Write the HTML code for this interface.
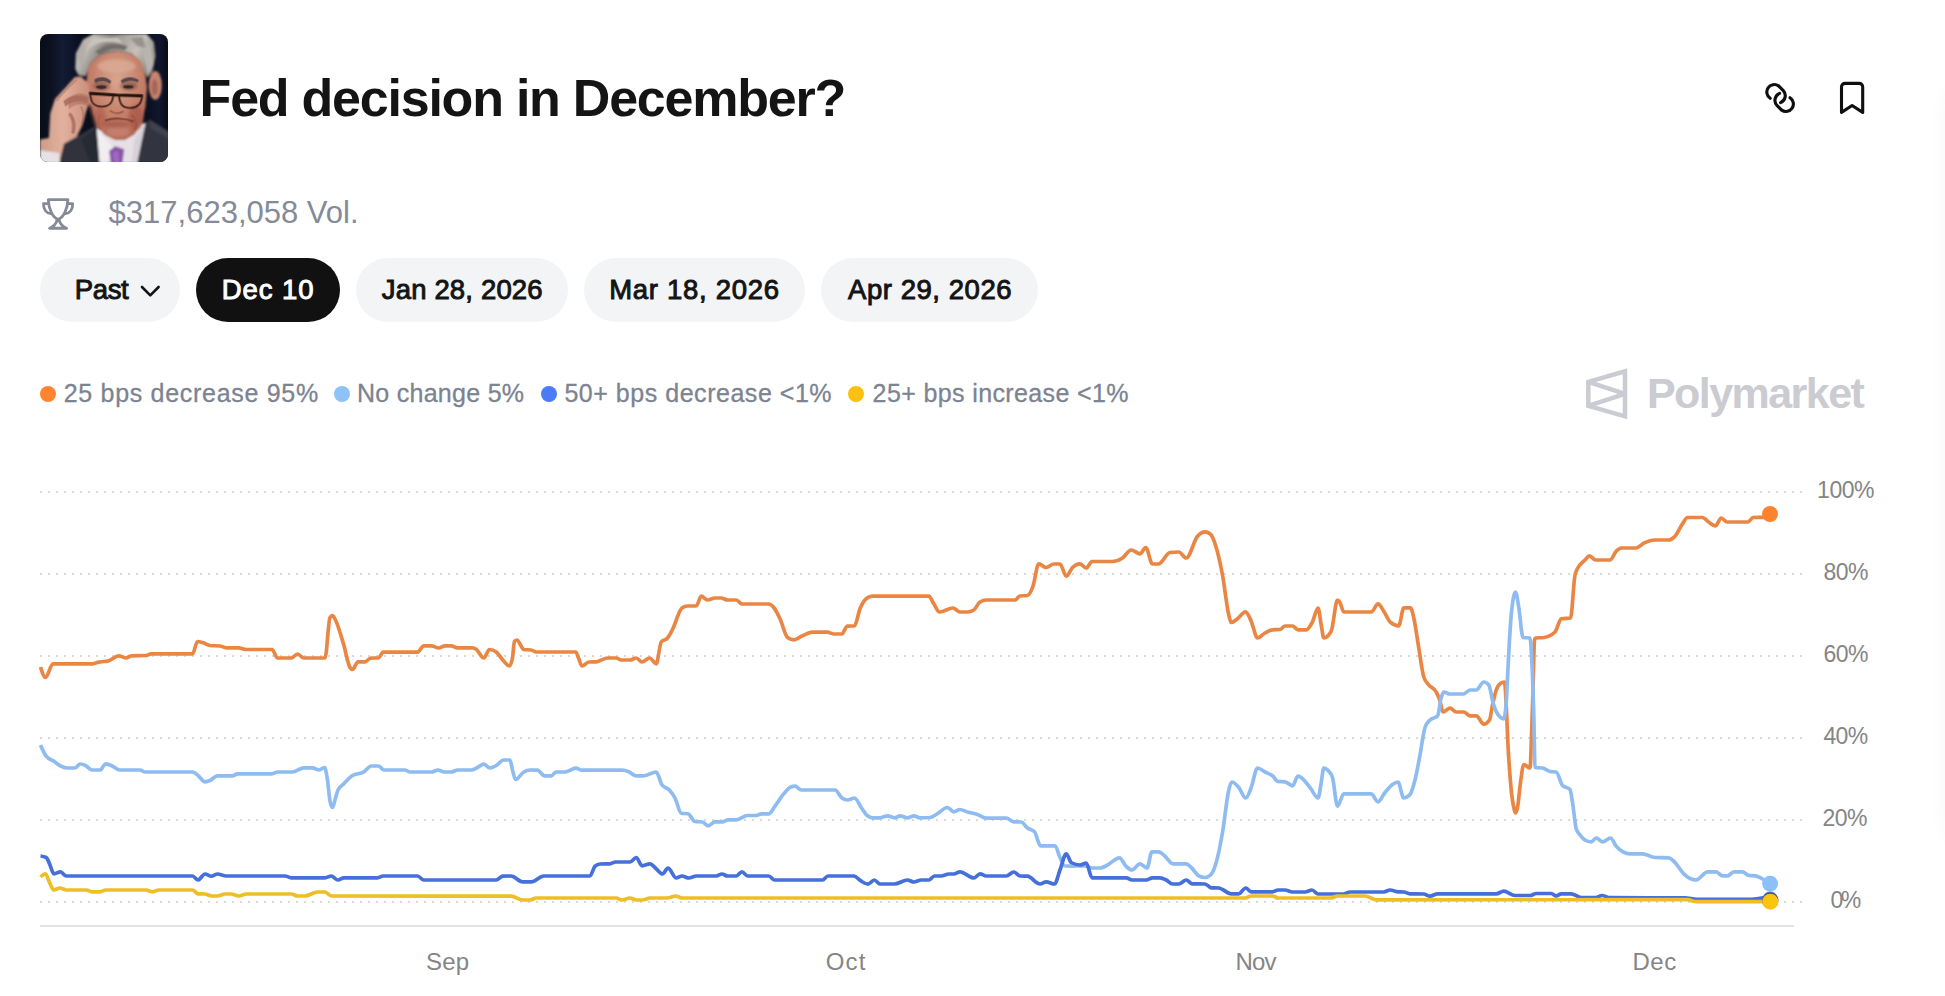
<!DOCTYPE html>
<html lang="en">
<head>
<meta charset="utf-8">
<title>Fed decision in December?</title>
<style>
html,body{margin:0;padding:0;background:#fff;}
body{width:1945px;height:996px;position:relative;overflow:hidden;font-family:"Liberation Sans",sans-serif;}
.t{position:absolute;white-space:nowrap;line-height:1;}
#title{top:72px;font-size:52px;font-weight:bold;color:#141414;}
#vol{top:197px;font-size:31px;color:#848b97;}
.pill{position:absolute;top:258px;height:64px;border-radius:32px;background:#f2f4f6;}
.pill.on{background:#111111;}
.pt{position:absolute;white-space:nowrap;line-height:1;top:275.7px;font-size:27.5px;font-weight:normal;-webkit-text-stroke:0.95px #141414;color:#141414;}
.pt.w{color:#fff;-webkit-text-stroke-color:#fff;}
.dot{position:absolute;width:16px;height:16px;border-radius:50%;top:386px;}
.lg{position:absolute;white-space:nowrap;line-height:1;top:381px;font-size:25px;color:#7c8391;-webkit-text-stroke:0.3px #7c8391;}
.ax{position:absolute;white-space:nowrap;line-height:1;font-size:23px;color:#858585;}
#pm{top:372.2px;font-size:43px;font-weight:bold;color:#cbcbd2;}
svg{position:absolute;left:0;top:0;}
</style>
</head>
<body>
<div style="position:absolute;left:1951px;top:88px;width:200px;height:750px;border-radius:16px;box-shadow:0 2px 26px rgba(0,0,0,0.06);"></div>
<!--AVATAR-->
<svg id="avatar" width="128" height="128" viewBox="30 30 935 935" style="left:40px;top:34px;border-radius:8px;">
<defs>
<linearGradient id="bgg" x1="0" x2="1" y1="0" y2="0">
<stop offset="0" stop-color="#0a0d19"/><stop offset="0.08" stop-color="#0c1120"/><stop offset="0.17" stop-color="#131b33"/><stop offset="0.25" stop-color="#0e152b"/><stop offset="0.31" stop-color="#0a0f1e"/><stop offset="0.85" stop-color="#0b101f"/><stop offset="0.93" stop-color="#10172e"/><stop offset="1" stop-color="#090c18"/>
</linearGradient>
<linearGradient id="hairg" x1="0" x2="1" y1="0" y2="0.3">
<stop offset="0" stop-color="#a39f98"/><stop offset="0.22" stop-color="#c0bcb5"/><stop offset="0.42" stop-color="#8b8782"/><stop offset="0.6" stop-color="#aca8a1"/><stop offset="0.8" stop-color="#c6c2bb"/><stop offset="1" stop-color="#9c9891"/>
</linearGradient>
<radialGradient id="faceg" cx="0.5" cy="0.32" r="0.72">
<stop offset="0" stop-color="#d8a58e"/><stop offset="0.5" stop-color="#c8846e"/><stop offset="1" stop-color="#b0634f"/>
</radialGradient>
<linearGradient id="handg" x1="0" x2="1" y1="0" y2="0">
<stop offset="0" stop-color="#cf9c8a"/><stop offset="0.45" stop-color="#e2b19d"/><stop offset="1" stop-color="#c88e7b"/>
</linearGradient>
<filter id="bl" x="-5%" y="-5%" width="110%" height="110%"><feGaussianBlur stdDeviation="6"/></filter>
<filter id="bl2" x="-5%" y="-5%" width="110%" height="110%"><feGaussianBlur stdDeviation="4"/></filter>
<filter id="bl3" x="-10%" y="-10%" width="120%" height="120%"><feGaussianBlur stdDeviation="12"/></filter>
</defs>
<rect x="30" y="30" width="935" height="935" fill="url(#bgg)"/>
<g filter="url(#bl)">
<!-- suit -->
<path d="M170 975L205 830L320 770L450 690L500 975Z" fill="#31333d"/>
<path d="M700 975L790 690L830 655L975 745V975Z" fill="#31343f"/>
<path d="M830 655L975 745V800L840 720Z" fill="#3f424e"/>
<path d="M330 800L440 720L470 975H400Z" fill="#282a33"/>
<!-- shirt -->
<path d="M445 720L800 680L730 975H470Z" fill="#e6e0e4"/>
<path d="M445 720L560 850L520 975H465Z" fill="#f1edf0"/>
<path d="M800 680L740 975H700L720 800Z" fill="#d8d2d8"/>
<!-- tie -->
<path d="M535 885L580 850L645 872L632 975H548Z" fill="#8a52ab"/>
<path d="M560 900L600 880L610 975H575Z" fill="#a069c0"/>
<!-- ear -->
<ellipse cx="872" cy="405" rx="48" ry="105" fill="#c5846f"/>
<ellipse cx="868" cy="420" rx="22" ry="60" fill="#a86553"/>
<!-- hair -->
<path d="M288 285L292 170L345 70L420 30H810L862 90L874 190L852 300L815 350L790 300L760 225L700 172L600 150L485 172L405 235L362 340L310 330Z" fill="url(#hairg)"/>
<path d="M330 200C400 90 520 70 640 100L600 60L420 60Z" fill="#c9c5be"/>
<path d="M430 160C520 90 600 90 670 120L650 152C580 130 520 142 465 182Z" fill="#716d6a"/>
<path d="M760 120L840 110L860 250L820 320L800 240Z" fill="#b9b5ae"/>
<path d="M300 180L340 100L370 120L330 300Z" fill="#b3afa8"/>
<path d="M690 60L780 50L800 130L740 120Z" fill="#96928d"/>
<!-- face -->
<path d="M405 235L485 175L600 153L700 175L765 228L800 330L812 420L800 560L772 680L722 762L650 805H580L500 765L440 695L400 600L380 480L368 380L378 300Z" fill="url(#faceg)"/>
<!-- hand -->
<path d="M285 345L330 340L388 395L398 520L366 600L338 700L298 780L205 832L170 975H30V800L95 790L105 610L140 505L215 425Z" fill="url(#handg)"/>
<path d="M30 880L170 900L175 975H30Z" fill="#e6e1e4"/>
</g>
<g filter="url(#bl3)">
<ellipse cx="730" cy="640" rx="55" ry="90" fill="#a9584a" opacity="0.75"/>
<ellipse cx="468" cy="640" rx="45" ry="80" fill="#b26252" opacity="0.7"/>
<ellipse cx="590" cy="265" rx="140" ry="50" fill="#dbab95" opacity="0.8"/>
<ellipse cx="600" cy="745" rx="85" ry="40" fill="#c5806d" opacity="0.9"/>
<ellipse cx="478" cy="410" rx="62" ry="34" fill="#8a5446" opacity="0.75"/>
<ellipse cx="680" cy="408" rx="62" ry="34" fill="#8a5446" opacity="0.75"/>
<ellipse cx="585" cy="690" rx="95" ry="26" fill="#9c5648" opacity="0.6"/>
<path d="M388 560L410 700L440 700L400 560Z" fill="#15151e"/>
</g>
<g filter="url(#bl2)">
<!-- finger creases -->
<path d="M235 500C290 455 350 455 392 490L385 560C340 530 280 540 240 580Z" fill="#a8685a" opacity="0.55"/>
<path d="M200 520C260 470 330 470 380 500L372 535C320 510 260 520 215 560Z" fill="#a9685a" opacity="0.85"/>
<path d="M250 600C290 640 300 700 280 760L258 752C272 700 262 650 238 622Z" fill="#a86858" opacity="0.8"/>
<path d="M150 520C200 450 260 400 300 360" fill="none" stroke="#b37463" stroke-width="10" opacity="0.8"/>
<path d="M330 560C350 600 350 650 335 690" fill="none" stroke="#a9695a" stroke-width="10" opacity="0.8"/>
<!-- brows -->
<path d="M425 365C470 335 520 345 550 375L540 395C510 370 470 365 435 390Z" fill="#54494a"/>
<path d="M620 370C660 340 710 340 750 365L745 385C705 365 665 368 630 392Z" fill="#54494a"/>
<!-- eyes -->
<ellipse cx="478" cy="418" rx="38" ry="13" fill="#35292a"/>
<ellipse cx="675" cy="415" rx="38" ry="13" fill="#35292a"/>
<!-- glasses -->
<path d="M388 463L585 476L782 482" fill="none" stroke="#1f120e" stroke-width="22"/>
<path d="M398 468C400 540 430 560 480 560C540 560 560 530 565 478" fill="none" stroke="#3a2018" stroke-width="13"/>
<path d="M608 480C610 550 640 572 690 570C745 568 770 540 776 485" fill="none" stroke="#3a2018" stroke-width="13"/>
<!-- nose & mouth -->
<path d="M540 590C570 612 610 614 640 595" fill="none" stroke="#9a5546" stroke-width="13"/>
<path d="M505 662C560 642 650 642 715 670" fill="none" stroke="#7e3f36" stroke-width="14"/>
<path d="M700 620C740 660 740 700 720 730" fill="none" stroke="#9c5446" stroke-width="11"/>
<path d="M470 620C450 660 455 700 475 730" fill="none" stroke="#a35b4c" stroke-width="9"/>
</g>
</svg>
<!--/AVATAR-->
<div class="t" id="title" style="left:199.6px;letter-spacing:-1.23px;">Fed decision in December?</div>
<div class="t" id="vol" style="left:108.6px;letter-spacing:0.0px;">$317,623,058 Vol.</div>

<div class="pill" style="left:40px;width:140px;"></div>
<div class="pill on" style="left:196px;width:144px;"></div>
<div class="pill" style="left:356px;width:212px;"></div>
<div class="pill" style="left:584px;width:221px;"></div>
<div class="pill" style="left:821px;width:217px;"></div>
<div class="pt" id="p1" style="left:74.7px;letter-spacing:-0.33px;">Past</div>
<div class="pt w" id="p2" style="left:221.8px;letter-spacing:0.92px;">Dec 10</div>
<div class="pt" id="p3" style="left:381.8px;letter-spacing:0.16px;">Jan 28, 2026</div>
<div class="pt" id="p4" style="left:609.2px;letter-spacing:0.71px;">Mar 18, 2026</div>
<div class="pt" id="p5" style="left:848px;letter-spacing:0.55px;">Apr 29, 2026</div>

<div class="dot" style="left:40px;background:#ff8432;"></div>
<div class="lg" id="l1" style="left:63.7px;letter-spacing:0.7px;">25 bps decrease 95%</div>
<div class="dot" style="left:334px;background:#8ec3fa;"></div>
<div class="lg" id="l2" style="left:356.9px;letter-spacing:0.29px;">No change 5%</div>
<div class="dot" style="left:541px;background:#4a7cf7;"></div>
<div class="lg" id="l3" style="left:564.4px;letter-spacing:0.53px;">50+ bps decrease &lt;1%</div>
<div class="dot" style="left:848px;background:#fcc010;"></div>
<div class="lg" id="l4" style="left:872.6px;letter-spacing:0.38px;">25+ bps increase &lt;1%</div>

<div class="t" id="pm" style="left:1647px;letter-spacing:-1.56px;">Polymarket</div>

<div class="ax" id="a100" style="left:1817.1px;letter-spacing:-0.47px;top:478.5px;">100%</div>
<div class="ax" id="a80" style="left:1823.6px;letter-spacing:-0.6px;top:560.5px;">80%</div>
<div class="ax" id="a60" style="left:1823.6px;letter-spacing:-0.6px;top:642.5px;">60%</div>
<div class="ax" id="a40" style="left:1823.5px;letter-spacing:-0.7px;top:724.5px;">40%</div>
<div class="ax" id="a20" style="left:1822.4px;letter-spacing:-0.5px;top:806.5px;">20%</div>
<div class="ax" id="a0" style="left:1830.6px;letter-spacing:-2.6px;top:888.5px;">0%</div>
<div class="ax" id="mSep" style="left:426px;letter-spacing:0.2px;top:949.6px;font-size:24px;">Sep</div>
<div class="ax" id="mOct" style="left:825.7px;letter-spacing:1.2px;top:949.6px;font-size:24px;">Oct</div>
<div class="ax" id="mNov" style="left:1235.5px;letter-spacing:-0.9px;top:949.6px;font-size:24px;">Nov</div>
<div class="ax" id="mDec" style="left:1632.5px;letter-spacing:0.5px;top:949.6px;font-size:24px;">Dec</div>

<!--ICONS-->
<svg id="icons" width="1945" height="996" viewBox="0 0 1945 996">
<g transform="translate(1780.1 98) rotate(45) scale(1.065)" fill="none" stroke="#0f0f0f" stroke-width="2.95" stroke-linecap="round">
<path d="M-6.4 6.8A7.03 7.03 0 1 1 -9.14 -7.03L-3.1 -7.03A7.03 7.03 0 0 1 3.38 2.72"/>
<path d="M6.4 -6.8A7.03 7.03 0 1 1 9.14 7.03L3.1 7.03A7.03 7.03 0 0 1 -3.38 -2.72"/>
</g>
<path d="M1841.5 112.4V86.9a3.5 3.5 0 0 1 3.5-3.5h14.2a3.5 3.5 0 0 1 3.5 3.5V112.4L1852.1 105.5Z" fill="none" stroke="#0f0f0f" stroke-width="3.1" stroke-linejoin="round"/>
<path d="M142 287L150.3 295.3L158.6 287" fill="none" stroke="#141414" stroke-width="2.6" stroke-linecap="round" stroke-linejoin="round"/>
<g transform="translate(33 189) scale(0.0502)" fill="none" stroke="#858b96" stroke-width="56" stroke-linejoin="round" stroke-linecap="round">
<path d="M305 210H695C690 400 600 590 500 602C400 590 310 400 305 210Z"/>
<path d="M300 290H209C205 410 270 485 350 492M700 290H791C795 410 730 485 650 492"/>
<path d="M478 615C470 690 400 760 330 782H670C600 760 530 690 522 615"/>
</g>
<path d="M1588.35 381.9L1625 371.35V416.3L1588.35 405.8Z" fill="none" stroke="#cbcbd3" stroke-width="4.5" stroke-linejoin="miter"/><path d="M1588.35 381.9L1625 393.8L1588.35 405.8" fill="none" stroke="#cbcbd3" stroke-width="4.5" stroke-linejoin="bevel"/>
</svg>
<!--/ICONS-->
<svg id="chart" width="1945" height="996" viewBox="0 0 1945 996">
<g stroke="#d9dbd9" stroke-width="2" stroke-dasharray="2 6" fill="none">
<path d="M40 492H1802M40 574H1802M40 656H1802M40 738H1802M40 820H1802M40 902H1802"/>
</g>
<path d="M40 926H1794" stroke="#e3e3e3" stroke-width="2" fill="none"/>
<!--LINES-->
<g fill="none" stroke-width="3.7" stroke-linejoin="round" stroke-linecap="butt">
<path id="ln-orange" stroke="#ea8644" d="M40.5 667.0C42.2 672.2 43.8 677.5 45.5 677.5C48.0 677.5 50.5 663.8 53.0 663.8C66.2 663.8 79.3 663.8 92.5 663.8C95.0 663.8 97.5 662.1 100.0 661.8C102.5 661.4 105.0 661.6 107.5 661.2C111.2 660.8 115.0 655.8 118.8 655.8C121.2 655.8 123.8 658.0 126.2 658.0C127.9 658.0 129.6 655.8 131.2 655.8C136.2 655.6 141.2 655.7 146.2 655.5C147.9 655.4 149.6 653.8 151.2 653.8C165.0 653.8 178.8 653.8 192.5 653.8C194.2 653.8 195.8 641.5 197.5 641.5C199.2 641.5 200.8 642.0 202.5 642.5C205.0 643.2 207.5 645.2 210.0 645.5C213.3 645.8 216.7 645.7 220.0 646.0C222.1 646.2 224.2 647.8 226.2 647.8C230.4 647.8 234.6 647.8 238.8 647.8C241.2 647.8 243.8 649.5 246.2 649.5C254.8 649.5 263.4 649.5 272.0 649.5C273.8 649.5 275.7 658.0 277.5 658.0C282.1 658.0 286.7 658.0 291.2 658.0C293.3 658.0 295.4 654.0 297.5 654.0C299.6 654.0 301.7 658.0 303.8 658.0C310.8 658.0 317.9 658.0 325.0 658.0C326.7 658.0 328.3 620.2 330.0 617.5C330.8 616.2 331.7 615.5 332.5 615.5C333.5 615.5 334.5 618.1 335.5 620.0C338.2 625.2 341.0 635.8 343.8 645.0C345.8 652.0 347.9 664.2 350.0 667.5C350.8 668.8 351.7 669.5 352.5 669.5C354.3 669.5 356.2 661.8 358.0 661.8C360.3 661.8 362.7 661.8 365.0 661.8C366.8 661.8 368.7 658.5 370.5 658.2C373.2 657.9 376.0 658.1 378.8 657.8C380.2 657.6 381.6 652.2 383.0 652.2C394.5 652.2 406.0 652.2 417.5 652.2C419.6 652.2 421.7 645.8 423.8 645.8C426.2 645.8 428.8 645.8 431.2 645.8C433.8 645.8 436.2 648.0 438.8 648.0C440.8 648.0 442.9 645.8 445.0 645.8C447.1 645.8 449.2 645.8 451.2 645.8C453.3 645.8 455.4 647.8 457.5 647.8C462.5 647.8 467.5 647.8 472.5 647.8C473.8 647.8 475.0 648.4 476.2 649.2C478.8 650.9 481.2 658.0 483.8 658.0C485.7 658.0 487.6 649.5 489.5 649.5C491.8 649.5 494.0 650.3 496.2 652.0C498.8 653.9 501.2 658.7 503.8 661.2C505.7 663.2 507.6 666.0 509.5 666.0C510.5 666.0 511.5 663.2 512.5 657.5C513.2 653.7 513.8 641.9 514.5 641.2C515.3 640.4 516.2 640.0 517.0 640.0C519.2 640.0 521.5 649.2 523.8 649.5C526.2 649.8 528.8 649.7 531.2 650.0C532.9 650.2 534.6 652.0 536.2 652.0C549.4 652.0 562.6 652.0 575.8 652.0C576.8 652.0 577.8 656.5 578.8 658.8C579.8 661.2 580.9 666.0 582.0 666.0C584.2 666.0 586.5 662.1 588.8 662.0C591.2 661.8 593.8 661.9 596.2 661.8C600.0 661.5 603.8 658.0 607.5 658.0C610.4 658.0 613.3 658.0 616.2 658.0C617.9 658.0 619.6 660.0 621.2 660.0C624.2 660.0 627.1 660.0 630.0 660.0C632.1 660.0 634.2 658.0 636.2 658.0C638.2 658.0 640.1 662.0 642.0 662.0C644.5 662.0 647.0 658.0 649.5 658.0C651.8 658.0 654.0 663.8 656.2 663.8C657.9 663.8 659.6 644.1 661.2 642.0C663.3 639.3 665.4 640.6 667.5 638.0C669.2 636.0 670.8 632.7 672.5 629.5C675.7 623.5 678.8 610.3 682.0 608.0C683.8 606.7 685.7 606.0 687.5 606.0C690.4 606.0 693.3 606.0 696.2 606.0C697.9 606.0 699.6 596.2 701.2 596.2C703.3 596.2 705.4 600.0 707.5 600.0C710.0 600.0 712.5 598.0 715.0 598.0C717.1 598.0 719.2 598.0 721.2 598.0C723.3 598.0 725.4 600.0 727.5 600.0C730.4 600.0 733.3 600.0 736.2 600.0C738.2 600.0 740.1 604.0 742.0 604.0C750.9 604.0 759.8 604.0 768.8 604.0C770.4 604.0 772.1 605.5 773.8 607.5C775.8 610.0 777.9 614.3 780.0 618.8C782.5 624.0 785.0 635.7 787.5 637.5C789.6 639.0 791.7 639.8 793.8 639.8C796.7 639.8 799.6 636.9 802.5 635.8C805.8 634.4 809.2 632.2 812.5 632.2C817.5 632.2 822.5 632.2 827.5 632.2C829.6 632.2 831.7 634.0 833.8 634.0C836.5 634.0 839.2 634.0 842.0 634.0C843.7 634.0 845.3 626.5 847.0 626.2C849.5 625.9 852.0 626.1 854.5 625.8C856.3 625.5 858.2 613.1 860.0 608.8C862.1 603.8 864.2 600.4 866.2 598.8C868.3 597.1 870.4 596.2 872.5 596.2C891.2 596.2 910.0 596.2 928.8 596.2C930.4 596.2 932.1 601.3 933.8 603.8C935.7 606.6 937.6 612.0 939.5 612.0C944.0 612.0 948.5 608.0 953.0 608.0C955.3 608.0 957.7 612.0 960.0 612.0C962.5 612.0 965.0 612.0 967.5 612.0C969.6 612.0 971.7 611.3 973.8 610.0C975.8 608.7 977.9 603.3 980.0 602.0C982.1 600.7 984.2 600.0 986.2 600.0C995.8 600.0 1005.4 600.0 1015.0 600.0C1016.7 600.0 1018.3 596.2 1020.0 596.0C1022.5 595.7 1025.0 595.8 1027.5 595.5C1029.3 595.3 1031.2 591.3 1033.0 586.2C1034.9 580.9 1036.8 563.8 1038.8 563.8C1041.2 563.8 1043.8 567.5 1046.2 567.5C1048.8 567.5 1051.2 564.0 1053.8 564.0C1055.8 564.0 1057.9 564.0 1060.0 564.0C1062.1 564.0 1064.2 576.2 1066.2 576.2C1068.3 576.2 1070.4 569.6 1072.5 567.5C1075.0 565.0 1077.5 563.8 1080.0 563.8C1082.1 563.8 1084.2 568.0 1086.2 568.0C1088.2 568.0 1090.1 561.5 1092.0 561.5C1098.8 561.5 1105.7 561.5 1112.5 561.5C1115.8 561.5 1119.2 560.2 1122.5 558.0C1125.4 556.1 1128.3 550.0 1131.2 550.0C1134.2 550.0 1137.1 553.8 1140.0 553.8C1141.9 553.8 1143.8 547.5 1145.8 547.5C1148.0 547.5 1150.2 564.0 1152.5 564.0C1154.6 564.0 1156.7 563.9 1158.8 563.8C1162.5 563.5 1166.2 552.9 1170.0 552.5C1172.9 552.2 1175.8 552.0 1178.8 552.0C1181.2 552.0 1183.8 558.0 1186.2 558.0C1190.0 558.0 1193.8 540.5 1197.5 536.2C1200.0 533.4 1202.5 531.8 1205.0 531.8C1206.7 531.8 1208.3 532.4 1210.0 533.8C1212.1 535.4 1214.2 540.6 1216.2 547.5C1218.3 554.4 1220.4 563.8 1222.5 575.0C1224.6 586.2 1226.7 606.7 1228.8 615.0C1229.6 618.3 1230.4 622.5 1231.2 622.5C1233.3 622.5 1235.4 620.3 1237.5 618.8C1240.2 616.8 1242.8 611.8 1245.5 611.8C1247.4 611.8 1249.3 617.1 1251.2 621.2C1253.3 625.7 1255.4 638.0 1257.5 638.0C1260.0 638.0 1262.5 634.4 1265.0 633.0C1267.5 631.6 1270.0 629.9 1272.5 629.8C1275.0 629.6 1277.5 629.7 1280.0 629.5C1281.7 629.4 1283.3 626.0 1285.0 626.0C1287.5 626.0 1290.0 626.0 1292.5 626.0C1294.3 626.0 1296.2 629.8 1298.0 629.8C1300.8 629.8 1303.5 629.8 1306.2 629.8C1308.3 629.8 1310.4 625.8 1312.5 621.8C1314.3 618.2 1316.2 608.0 1318.0 608.0C1319.1 608.0 1320.2 619.4 1321.2 625.0C1322.1 629.3 1322.9 638.0 1323.8 638.0C1326.2 638.0 1328.8 635.8 1331.2 631.2C1333.3 627.5 1335.4 600.0 1337.5 600.0C1338.3 600.0 1339.2 601.2 1340.0 602.5C1341.2 604.5 1342.5 612.0 1343.8 612.0C1352.9 612.0 1362.1 612.0 1371.2 612.0C1373.5 612.0 1375.8 603.8 1378.0 603.8C1379.9 603.8 1381.8 608.4 1383.8 611.2C1385.8 614.3 1387.9 619.8 1390.0 621.8C1392.9 624.4 1395.8 625.8 1398.8 625.8C1400.4 625.8 1402.1 607.8 1403.8 607.8C1406.0 607.8 1408.2 607.8 1410.5 607.8C1411.7 607.8 1412.8 613.8 1414.0 619.0C1415.6 626.0 1417.2 638.6 1418.8 648.0C1420.4 657.9 1422.1 671.7 1423.8 677.0C1425.4 682.3 1427.1 682.8 1428.8 685.0C1431.2 688.3 1433.8 687.3 1436.2 692.0C1437.5 694.3 1438.8 697.1 1440.0 701.0C1441.0 704.1 1442.0 712.0 1443.0 712.0C1445.3 712.0 1447.7 708.2 1450.0 708.2C1452.1 708.2 1454.2 712.0 1456.2 712.0C1458.8 712.0 1461.2 712.0 1463.8 712.0C1465.8 712.0 1467.9 715.8 1470.0 715.8C1472.1 715.8 1474.2 715.8 1476.2 715.8C1478.8 715.8 1481.2 724.2 1483.8 724.2C1485.7 724.2 1487.6 722.8 1489.5 720.0C1490.5 718.5 1491.5 709.6 1492.5 705.0C1493.8 699.3 1495.0 693.5 1496.2 690.0C1497.5 686.5 1498.8 684.7 1500.0 683.8C1501.5 682.6 1503.0 682.0 1504.5 682.0C1505.1 682.0 1505.7 694.5 1506.2 705.0C1506.8 715.5 1507.4 733.5 1508.0 745.0C1509.1 766.3 1510.2 779.2 1511.2 790.0C1512.1 798.3 1512.9 803.6 1513.8 807.5C1514.3 810.3 1514.9 813.0 1515.5 813.0C1516.2 813.0 1516.8 810.8 1517.5 807.5C1518.5 802.5 1519.5 789.5 1520.5 782.5C1521.6 774.9 1522.7 764.5 1523.8 764.5C1525.8 764.5 1527.9 768.0 1530.0 768.0C1530.6 768.0 1531.2 743.3 1531.8 727.5C1532.2 716.2 1532.6 703.1 1533.0 690.0C1533.5 674.2 1534.0 642.0 1534.5 640.0C1534.8 638.7 1535.2 638.0 1535.5 638.0C1538.2 637.7 1541.0 637.8 1543.8 637.5C1547.5 637.0 1551.2 635.7 1555.0 632.0C1557.1 630.0 1559.2 619.1 1561.2 618.8C1564.3 618.2 1567.4 618.5 1570.5 618.0C1572.0 617.8 1573.5 582.3 1575.0 575.0C1575.7 571.8 1576.3 571.1 1577.0 569.5C1579.7 563.2 1582.3 562.8 1585.0 560.0C1586.5 558.5 1588.0 555.8 1589.5 555.8C1591.5 555.8 1593.5 560.0 1595.5 560.0C1600.3 560.0 1605.2 560.0 1610.0 560.0C1612.1 560.0 1614.2 553.3 1616.2 551.2C1617.9 549.6 1619.6 548.0 1621.2 548.0C1626.2 548.0 1631.2 548.0 1636.2 548.0C1638.8 548.0 1641.2 544.5 1643.8 543.2C1647.5 541.4 1651.2 540.0 1655.0 540.0C1659.6 540.0 1664.2 540.0 1668.8 540.0C1670.8 540.0 1672.9 538.5 1675.0 536.2C1677.5 533.5 1680.0 527.3 1682.5 523.8C1684.2 521.4 1685.8 517.5 1687.5 517.5C1692.5 517.5 1697.5 517.5 1702.5 517.5C1705.0 517.5 1707.5 521.8 1710.0 523.2C1711.8 524.3 1713.7 525.8 1715.5 525.8C1717.4 525.8 1719.3 518.0 1721.2 518.0C1723.2 518.0 1725.1 522.0 1727.0 522.0C1734.0 522.0 1741.0 522.0 1748.0 522.0C1749.7 522.0 1751.3 517.6 1753.0 517.5C1756.2 517.4 1759.3 517.4 1762.5 517.3C1765.0 517.2 1767.5 517.1 1770.0 517.0"/>
<path id="ln-lblue" stroke="#8fbcf0" d="M40.5 745.0C42.4 749.3 44.3 753.7 46.2 756.2C48.8 759.6 51.2 759.6 53.8 761.2C56.2 762.9 58.8 765.1 61.2 766.2C63.3 767.2 65.4 768.0 67.5 768.0C70.0 768.0 72.5 768.0 75.0 768.0C76.7 768.0 78.3 764.0 80.0 764.0C81.8 764.0 83.7 764.6 85.5 765.5C87.7 766.5 89.8 770.0 92.0 770.0C94.7 770.0 97.3 770.0 100.0 770.0C101.9 770.0 103.8 763.8 105.8 763.8C107.6 763.8 109.4 764.8 111.2 765.5C114.0 766.6 116.8 770.0 119.5 770.0C126.3 770.0 133.2 770.0 140.0 770.0C141.7 770.0 143.3 772.0 145.0 772.0C161.0 772.0 177.0 772.0 193.0 772.0C194.7 772.0 196.3 774.2 198.0 775.5C200.3 777.3 202.7 781.8 205.0 781.8C206.7 781.8 208.3 781.2 210.0 780.5C212.5 779.5 215.0 775.8 217.5 775.8C222.5 775.8 227.5 775.8 232.5 775.8C234.2 775.8 235.8 773.8 237.5 773.8C249.0 773.8 260.5 773.8 272.0 773.8C273.8 773.8 275.7 772.0 277.5 772.0C282.5 772.0 287.5 772.0 292.5 772.0C296.2 772.0 300.0 767.8 303.8 767.8C306.7 767.8 309.6 767.8 312.5 767.8C314.6 767.8 316.7 770.0 318.8 770.0C320.7 770.0 322.6 767.5 324.5 767.5C325.5 767.5 326.5 773.5 327.5 780.0C328.3 785.4 329.2 797.1 330.0 801.2C330.8 805.4 331.7 807.5 332.5 807.5C333.3 807.5 334.2 802.6 335.0 800.0C336.0 796.8 337.0 792.2 338.0 790.0C339.9 785.8 341.8 785.7 343.8 783.8C346.7 780.7 349.6 777.3 352.5 775.5C356.2 773.2 360.0 774.3 363.8 772.0C366.2 770.5 368.8 766.0 371.2 766.0C373.8 766.0 376.2 766.0 378.8 766.0C380.4 766.0 382.1 770.0 383.8 770.0C390.8 770.0 397.9 770.0 405.0 770.0C406.7 770.0 408.3 772.0 410.0 772.0C417.1 772.0 424.2 772.0 431.2 772.0C433.5 772.0 435.8 770.0 438.0 770.0C439.9 770.0 441.8 772.0 443.8 772.0C446.2 772.0 448.8 772.0 451.2 772.0C453.3 772.0 455.4 770.0 457.5 770.0C462.1 770.0 466.7 770.0 471.2 770.0C473.3 770.0 475.4 768.5 477.5 767.5C479.6 766.5 481.7 764.2 483.8 764.2C485.8 764.2 487.9 768.0 490.0 768.0C492.1 768.0 494.2 766.6 496.2 765.5C498.8 764.1 501.2 760.0 503.8 760.0C505.8 760.0 507.9 760.0 510.0 760.0C510.8 760.0 511.7 767.0 512.5 770.0C513.5 773.6 514.5 779.5 515.5 779.5C518.2 779.5 521.0 773.6 523.8 772.0C525.8 770.8 527.9 770.0 530.0 770.0C532.5 770.0 535.0 770.1 537.5 770.2C539.8 770.4 542.2 775.8 544.5 775.8C546.8 775.8 549.0 775.8 551.2 775.8C552.9 775.8 554.6 772.0 556.2 772.0C559.2 772.0 562.1 772.0 565.0 772.0C568.6 772.0 572.2 768.2 575.8 768.2C577.8 768.2 579.9 770.2 582.0 770.2C595.5 770.2 609.0 770.2 622.5 770.2C624.6 770.2 626.7 771.0 628.8 771.8C631.2 772.7 633.8 775.8 636.2 775.8C638.8 775.8 641.2 775.8 643.8 775.8C647.9 775.8 652.1 772.0 656.2 772.0C658.2 772.0 660.1 782.4 662.0 785.0C664.2 788.0 666.5 787.2 668.8 789.5C670.8 791.6 672.9 794.0 675.0 798.0C677.1 802.0 679.2 812.9 681.2 813.2C683.5 813.6 685.8 813.4 688.0 813.8C690.3 814.1 692.7 821.2 695.0 821.5C697.5 821.8 700.0 821.7 702.5 822.0C704.3 822.2 706.2 825.8 708.0 825.8C710.3 825.8 712.7 821.8 715.0 821.8C717.5 821.8 720.0 821.8 722.5 821.8C724.3 821.8 726.2 819.8 728.0 819.8C730.8 819.8 733.5 819.8 736.2 819.8C740.0 819.8 743.8 815.5 747.5 815.5C750.4 815.5 753.3 815.5 756.2 815.5C757.9 815.5 759.6 813.8 761.2 813.8C763.8 813.8 766.2 813.8 768.8 813.8C770.8 813.8 772.9 808.9 775.0 806.2C777.9 802.5 780.8 797.1 783.8 793.8C786.2 790.8 788.8 787.4 791.2 786.8C792.5 786.4 793.8 786.2 795.0 786.2C797.1 786.2 799.2 790.0 801.2 790.0C812.5 790.0 823.8 790.0 835.0 790.0C837.3 790.0 839.7 796.4 842.0 798.0C843.8 799.3 845.7 800.0 847.5 800.0C849.8 800.0 852.2 798.0 854.5 798.0C856.8 798.0 859.0 804.4 861.2 807.5C863.3 810.3 865.4 814.1 867.5 815.8C869.2 817.1 870.8 817.8 872.5 817.8C875.0 817.8 877.5 817.8 880.0 817.8C882.5 817.8 885.0 815.8 887.5 815.8C889.8 815.8 892.2 817.8 894.5 817.8C896.3 817.8 898.2 815.8 900.0 815.8C902.5 815.8 905.0 817.8 907.5 817.8C909.6 817.8 911.7 815.8 913.8 815.8C915.8 815.8 917.9 817.8 920.0 817.8C923.3 817.8 926.7 817.7 930.0 817.5C932.1 817.4 934.2 815.6 936.2 814.5C940.0 812.5 943.8 807.5 947.5 807.5C949.6 807.5 951.7 811.8 953.8 811.8C955.8 811.8 957.9 809.5 960.0 809.5C962.5 809.5 965.0 811.3 967.5 812.0C970.8 813.0 974.2 813.3 977.5 814.5C980.4 815.5 983.3 818.2 986.2 818.2C992.9 818.2 999.6 818.2 1006.2 818.2C1008.8 818.2 1011.2 821.6 1013.8 821.8C1016.2 821.9 1018.8 821.8 1021.2 822.0C1023.3 822.1 1025.4 826.4 1027.5 828.0C1029.8 829.8 1032.2 829.2 1034.5 831.8C1036.5 833.9 1038.5 845.8 1040.5 845.8C1045.3 845.8 1050.2 845.8 1055.0 845.8C1056.7 845.8 1058.3 854.0 1060.0 857.5C1061.5 860.6 1063.0 865.5 1064.5 865.8C1066.3 866.1 1068.2 866.2 1070.0 866.2C1075.0 866.2 1080.0 865.8 1085.0 865.8C1087.5 865.8 1090.0 868.0 1092.5 868.0C1095.4 868.0 1098.3 867.9 1101.2 867.8C1102.9 867.7 1104.6 866.5 1106.2 865.8C1110.7 863.7 1115.1 857.8 1119.5 857.8C1121.8 857.8 1124.0 864.4 1126.2 866.5C1128.2 868.3 1130.1 870.0 1132.0 870.0C1134.7 870.0 1137.3 863.8 1140.0 863.8C1142.3 863.8 1144.7 868.0 1147.0 868.0C1148.7 868.0 1150.3 851.8 1152.0 851.8C1154.2 851.8 1156.5 851.8 1158.8 851.8C1160.8 851.8 1162.9 854.6 1165.0 856.2C1167.7 858.4 1170.3 863.8 1173.0 863.8C1177.4 863.8 1181.8 863.8 1186.2 863.8C1187.9 863.8 1189.6 866.0 1191.2 867.5C1193.8 869.7 1196.2 874.4 1198.8 875.8C1200.8 876.9 1202.9 877.5 1205.0 877.5C1206.8 877.5 1208.7 876.7 1210.5 875.0C1212.4 873.3 1214.3 869.1 1216.2 862.5C1218.3 855.3 1220.4 844.6 1222.5 832.5C1224.6 820.4 1226.7 798.2 1228.8 790.0C1229.8 785.7 1230.9 782.0 1232.0 782.0C1234.2 782.0 1236.5 784.9 1238.8 787.5C1241.1 790.2 1243.4 798.0 1245.8 798.0C1247.6 798.0 1249.4 792.0 1251.2 787.5C1253.3 782.3 1255.4 768.0 1257.5 768.0C1260.0 768.0 1262.5 770.7 1265.0 772.0C1267.5 773.3 1270.0 773.7 1272.5 775.8C1274.3 777.2 1276.2 781.4 1278.0 781.5C1280.3 781.7 1282.7 781.6 1285.0 781.8C1287.5 781.9 1290.0 785.8 1292.5 785.8C1294.3 785.8 1296.2 776.2 1298.0 776.2C1302.0 776.2 1306.0 782.9 1310.0 787.5C1312.7 790.6 1315.3 798.0 1318.0 798.0C1319.1 798.0 1320.2 788.3 1321.2 782.5C1322.1 778.0 1322.9 768.0 1323.8 768.0C1325.4 768.0 1327.1 769.2 1328.8 771.2C1330.0 772.8 1331.2 773.3 1332.5 777.5C1334.2 783.1 1335.8 806.2 1337.5 806.2C1339.6 806.2 1341.7 793.8 1343.8 793.8C1352.9 793.8 1362.1 793.8 1371.2 793.8C1373.5 793.8 1375.8 801.8 1378.0 801.8C1380.3 801.8 1382.7 795.3 1385.0 792.5C1387.5 789.5 1390.0 786.3 1392.5 784.5C1394.3 783.2 1396.2 782.0 1398.0 782.0C1399.9 782.0 1401.8 798.0 1403.8 798.0C1405.8 798.0 1407.9 796.8 1410.0 794.5C1411.7 792.6 1413.3 786.6 1415.0 780.0C1416.7 773.4 1418.3 763.8 1420.0 755.0C1421.7 746.2 1423.3 732.5 1425.0 727.5C1426.7 722.5 1428.3 721.8 1430.0 720.0C1432.5 717.3 1435.0 718.7 1437.5 716.0C1438.8 714.7 1440.0 701.6 1441.2 697.5C1442.1 694.8 1442.9 692.0 1443.8 692.0C1445.8 692.0 1447.9 694.0 1450.0 694.0C1454.6 694.0 1459.2 694.0 1463.8 694.0C1465.8 694.0 1467.9 690.0 1470.0 690.0C1472.1 690.0 1474.2 690.0 1476.2 690.0C1478.8 690.0 1481.2 682.0 1483.8 682.0C1485.4 682.0 1487.1 683.0 1488.8 685.0C1490.2 686.7 1491.6 697.8 1493.0 702.5C1494.5 707.5 1496.0 711.4 1497.5 713.8C1499.6 717.1 1501.7 718.8 1503.8 718.8C1504.6 718.8 1505.4 713.3 1506.2 702.5C1507.1 691.7 1507.9 667.1 1508.8 652.5C1509.6 637.9 1510.4 624.0 1511.2 615.0C1512.7 599.7 1514.1 592.0 1515.5 592.0C1516.6 592.0 1517.7 601.3 1518.8 607.5C1520.2 615.7 1521.6 637.3 1523.0 637.5C1525.3 637.8 1527.7 637.7 1530.0 638.0C1530.7 638.1 1531.3 650.6 1532.0 665.0C1532.6 677.6 1533.2 693.8 1533.8 715.0C1534.2 730.2 1534.6 767.4 1535.0 767.5C1537.5 767.8 1540.0 767.7 1542.5 768.0C1545.0 768.3 1547.5 771.1 1550.0 771.5C1552.1 771.8 1554.2 771.7 1556.2 772.0C1558.3 772.3 1560.4 783.3 1562.5 785.5C1565.0 788.2 1567.5 786.8 1570.0 789.5C1570.8 790.4 1571.7 797.6 1572.5 802.5C1573.8 809.9 1575.0 824.6 1576.2 828.8C1577.5 832.9 1578.8 833.3 1580.0 835.0C1581.7 837.3 1583.3 839.1 1585.0 840.0C1587.1 841.2 1589.2 841.8 1591.2 841.8C1592.9 841.8 1594.6 838.0 1596.2 838.0C1598.3 838.0 1600.4 841.8 1602.5 841.8C1605.2 841.8 1607.8 838.0 1610.5 838.0C1612.4 838.0 1614.3 844.2 1616.2 846.2C1620.8 851.2 1625.4 853.8 1630.0 853.8C1634.2 853.8 1638.3 853.8 1642.5 853.8C1646.7 853.8 1650.8 857.3 1655.0 857.5C1659.6 857.7 1664.2 857.6 1668.8 857.8C1670.8 857.8 1672.9 860.5 1675.0 862.5C1677.9 865.4 1680.8 870.9 1683.8 873.8C1687.9 877.8 1692.1 880.0 1696.2 880.0C1700.0 880.0 1703.8 871.8 1707.5 871.8C1710.4 871.8 1713.3 871.8 1716.2 871.8C1718.3 871.8 1720.4 875.8 1722.5 875.8C1724.2 875.8 1725.8 875.8 1727.5 875.8C1729.6 875.8 1731.7 871.8 1733.8 871.8C1736.7 871.8 1739.6 871.8 1742.5 871.8C1744.6 871.8 1746.7 875.3 1748.8 875.5C1750.8 875.7 1752.9 875.6 1755.0 875.8C1757.5 876.0 1760.0 877.4 1762.5 878.8C1765.0 880.1 1767.5 881.9 1770.0 883.8"/>
<path id="ln-dblue" stroke="#4570dc" d="M40.5 856.0C42.4 856.2 44.3 856.5 46.2 857.5C47.5 858.2 48.8 862.3 50.0 865.0C51.2 867.7 52.5 873.8 53.8 873.8C56.0 873.8 58.2 871.8 60.5 871.8C62.4 871.8 64.3 876.0 66.2 876.0C108.3 876.0 150.4 876.0 192.5 876.0C194.3 876.0 196.2 880.0 198.0 880.0C200.3 880.0 202.7 874.0 205.0 874.0C207.1 874.0 209.2 876.2 211.2 876.2C213.3 876.2 215.4 874.0 217.5 874.0C220.4 874.0 223.3 876.0 226.2 876.0C245.8 876.0 265.4 876.0 285.0 876.0C287.1 876.0 289.2 877.8 291.2 877.8C302.5 877.8 313.8 877.8 325.0 877.8C327.1 877.8 329.2 876.0 331.2 876.0C333.5 876.0 335.8 880.0 338.0 880.0C339.9 880.0 341.8 877.8 343.8 877.8C355.0 877.8 366.2 877.8 377.5 877.8C379.3 877.8 381.2 876.0 383.0 876.0C394.5 876.0 406.0 876.0 417.5 876.0C419.6 876.0 421.7 880.0 423.8 880.0C447.9 880.0 472.1 880.0 496.2 880.0C498.3 880.0 500.4 876.4 502.5 876.2C505.4 876.1 508.3 876.0 511.2 876.0C515.0 876.0 518.8 881.8 522.5 881.8C525.4 881.8 528.3 881.8 531.2 881.8C535.4 881.8 539.6 876.0 543.8 876.0C559.2 876.0 574.6 876.0 590.0 876.0C591.7 876.0 593.3 867.8 595.0 866.2C596.7 864.8 598.3 864.1 600.0 864.0C603.3 863.8 606.7 863.9 610.0 863.8C611.8 863.7 613.7 862.0 615.5 862.0C620.3 862.0 625.2 862.0 630.0 862.0C632.1 862.0 634.2 857.5 636.2 857.5C638.2 857.5 640.1 865.8 642.0 865.8C644.7 865.8 647.3 863.8 650.0 863.8C652.1 863.8 654.2 867.0 656.2 868.8C658.3 870.5 660.4 874.0 662.5 874.0C664.3 874.0 666.2 868.2 668.0 868.2C670.8 868.2 673.5 878.0 676.2 878.0C678.2 878.0 680.1 876.0 682.0 876.0C684.2 876.0 686.5 878.0 688.8 878.0C691.2 878.0 693.8 876.0 696.2 876.0C702.9 876.0 709.6 876.0 716.2 876.0C718.2 876.0 720.1 874.0 722.0 874.0C723.8 874.0 725.7 876.0 727.5 876.0C730.4 876.0 733.3 876.0 736.2 876.0C738.2 876.0 740.1 871.8 742.0 871.8C743.8 871.8 745.7 876.0 747.5 876.0C754.6 876.0 761.7 876.0 768.8 876.0C770.7 876.0 772.6 880.0 774.5 880.0C790.5 880.0 806.5 880.0 822.5 880.0C824.3 880.0 826.2 876.0 828.0 876.0C836.6 876.0 845.2 876.0 853.8 876.0C856.2 876.0 858.8 879.8 861.2 881.2C863.5 882.5 865.8 884.2 868.0 884.2C870.1 884.2 872.2 880.0 874.2 880.0C876.2 880.0 878.1 884.0 880.0 884.0C884.8 884.0 889.7 884.0 894.5 884.0C898.8 884.0 903.2 880.0 907.5 880.0C909.6 880.0 911.7 882.0 913.8 882.0C916.2 882.0 918.8 880.0 921.2 880.0C923.8 880.0 926.2 880.0 928.8 880.0C930.7 880.0 932.6 876.0 934.5 876.0C936.8 876.0 939.0 876.0 941.2 876.0C943.8 876.0 946.2 874.0 948.8 874.0C950.4 874.0 952.1 874.0 953.8 874.0C955.8 874.0 957.9 871.8 960.0 871.8C964.6 871.8 969.2 878.0 973.8 878.0C975.8 878.0 977.9 873.8 980.0 873.8C982.1 873.8 984.2 876.0 986.2 876.0C992.9 876.0 999.6 876.0 1006.2 876.0C1008.8 876.0 1011.2 872.0 1013.8 872.0C1015.8 872.0 1017.9 875.9 1020.0 876.0C1022.5 876.2 1025.0 876.1 1027.5 876.2C1031.7 876.5 1035.8 884.0 1040.0 884.0C1042.1 884.0 1044.2 881.8 1046.2 881.8C1049.0 881.8 1051.8 884.0 1054.5 884.0C1056.3 884.0 1058.2 874.7 1060.0 870.0C1062.1 864.6 1064.2 853.8 1066.2 853.8C1067.9 853.8 1069.6 861.5 1071.2 862.5C1074.2 864.2 1077.1 865.0 1080.0 865.0C1082.1 865.0 1084.2 863.0 1086.2 863.0C1088.2 863.0 1090.1 877.8 1092.0 877.8C1103.4 877.8 1114.8 877.8 1126.2 877.8C1128.2 877.8 1130.1 880.0 1132.0 880.0C1136.8 880.0 1141.5 880.0 1146.2 880.0C1148.3 880.0 1150.4 877.8 1152.5 877.8C1155.0 877.8 1157.5 877.8 1160.0 877.8C1162.1 877.8 1164.2 879.0 1166.2 880.0C1168.3 881.0 1170.4 884.0 1172.5 884.0C1174.6 884.0 1176.7 884.0 1178.8 884.0C1181.2 884.0 1183.8 880.0 1186.2 880.0C1188.2 880.0 1190.1 883.7 1192.0 883.8C1196.3 883.9 1200.7 883.8 1205.0 884.0C1207.1 884.1 1209.2 887.6 1211.2 887.8C1213.8 887.9 1216.2 887.8 1218.8 888.0C1222.9 888.3 1227.1 893.8 1231.2 893.8C1233.8 893.8 1236.2 893.8 1238.8 893.8C1241.1 893.8 1243.4 888.0 1245.8 888.0C1247.6 888.0 1249.4 891.8 1251.2 891.8C1258.3 891.8 1265.4 891.8 1272.5 891.8C1274.3 891.8 1276.2 890.0 1278.0 890.0C1280.3 890.0 1282.7 890.0 1285.0 890.0C1287.5 890.0 1290.0 892.0 1292.5 892.0C1296.7 892.0 1300.8 892.0 1305.0 892.0C1307.3 892.0 1309.7 890.0 1312.0 890.0C1314.0 890.0 1316.0 894.0 1318.0 894.0C1326.6 894.0 1335.2 894.0 1343.8 894.0C1345.8 894.0 1347.9 892.0 1350.0 892.0C1361.2 892.0 1372.5 892.0 1383.8 892.0C1385.8 892.0 1387.9 890.0 1390.0 890.0C1392.7 890.0 1395.3 891.5 1398.0 891.8C1399.9 891.9 1401.8 891.8 1403.8 892.0C1405.8 892.2 1407.9 893.7 1410.0 893.8C1414.6 893.9 1419.2 893.8 1423.8 894.0C1425.8 894.1 1427.9 896.2 1430.0 896.2C1432.5 896.2 1435.0 893.8 1437.5 893.8C1457.1 893.8 1476.7 893.8 1496.2 893.8C1498.8 893.8 1501.2 891.2 1503.8 891.2C1507.5 891.2 1511.2 895.5 1515.0 895.5C1520.0 895.5 1525.0 895.5 1530.0 895.5C1532.1 895.5 1534.2 893.5 1536.2 893.5C1541.2 893.5 1546.2 893.5 1551.2 893.5C1552.9 893.5 1554.6 896.0 1556.2 896.0C1557.9 896.0 1559.6 893.8 1561.2 893.8C1564.6 893.8 1567.9 893.8 1571.2 893.8C1574.6 893.8 1577.9 897.5 1581.2 897.5C1586.2 897.5 1591.2 897.5 1596.2 897.5C1598.2 897.5 1600.1 895.5 1602.0 895.5C1604.7 895.5 1607.3 897.7 1610.0 897.7C1635.0 897.8 1660.0 897.8 1685.0 897.9C1689.0 897.9 1693.0 899.4 1697.0 899.4C1715.3 899.4 1733.7 899.4 1752.0 899.4C1754.0 899.4 1756.0 899.0 1758.0 898.7C1759.7 898.4 1761.3 898.0 1763.0 897.8C1765.3 897.5 1767.7 897.3 1770.0 897.2"/>
<path id="ln-yellow" stroke="#eebe26" d="M40.5 877.0C42.2 875.4 43.8 873.8 45.5 873.8C46.8 873.8 48.2 879.9 49.5 882.5C50.9 885.3 52.3 890.0 53.8 890.0C55.8 890.0 57.9 888.0 60.0 888.0C62.1 888.0 64.2 890.0 66.2 890.0C72.9 890.0 79.6 890.0 86.2 890.0C88.2 890.0 90.1 891.8 92.0 891.8C94.7 891.8 97.3 891.8 100.0 891.8C101.9 891.8 103.8 890.0 105.8 890.0C119.2 890.0 132.8 890.0 146.2 890.0C148.2 890.0 150.1 891.8 152.0 891.8C154.2 891.8 156.5 890.0 158.8 890.0C170.0 890.0 181.2 890.0 192.5 890.0C194.3 890.0 196.2 893.6 198.0 893.8C200.3 893.9 202.7 893.8 205.0 894.0C207.1 894.1 209.2 896.0 211.2 896.0C213.3 896.0 215.4 896.0 217.5 896.0C220.0 896.0 222.5 894.0 225.0 894.0C227.1 894.0 229.2 894.0 231.2 894.0C233.8 894.0 236.2 896.0 238.8 896.0C241.2 896.0 243.8 894.0 246.2 894.0C261.2 894.0 276.2 894.0 291.2 894.0C293.3 894.0 295.4 896.0 297.5 896.0C300.0 896.0 302.5 896.0 305.0 896.0C309.2 896.0 313.3 892.0 317.5 892.0C320.0 892.0 322.5 892.0 325.0 892.0C327.1 892.0 329.2 896.0 331.2 896.0C391.2 896.2 451.2 896.1 511.2 896.2C515.0 896.3 518.8 900.0 522.5 900.0C525.0 900.0 527.5 900.0 530.0 900.0C532.1 900.0 534.2 898.0 536.2 898.0C562.9 898.0 589.6 898.0 616.2 898.0C618.2 898.0 620.1 900.0 622.0 900.0C624.7 900.0 627.3 898.0 630.0 898.0C632.1 898.0 634.2 900.0 636.2 900.0C638.3 900.0 640.4 900.0 642.5 900.0C645.0 900.0 647.5 898.0 650.0 898.0C655.8 898.0 661.7 898.0 667.5 898.0C670.2 898.0 673.0 896.0 675.8 896.0C677.8 896.0 679.9 898.0 682.0 898.0C869.7 898.0 1057.3 898.0 1245.0 898.0C1247.1 898.0 1249.2 896.0 1251.2 896.0C1258.3 896.0 1265.4 896.0 1272.5 896.0C1274.3 896.0 1276.2 898.0 1278.0 898.0C1295.8 898.0 1313.5 898.0 1331.2 898.0C1333.3 898.0 1335.4 896.0 1337.5 896.0C1346.7 896.0 1355.8 896.0 1365.0 896.0C1368.8 896.0 1372.5 899.8 1376.2 899.8C1480.0 899.8 1583.8 899.7 1687.5 899.7C1690.4 899.7 1693.3 901.6 1696.2 901.6C1720.8 901.6 1745.4 901.6 1770.0 901.6"/>
</g>
<circle cx="1770" cy="514" r="8" fill="#ff822e"/>
<circle cx="1770.1" cy="883.7" r="7.9" fill="#8cc0fa"/>
<circle cx="1770.2" cy="899.6" r="8" fill="#4570dc"/>
<circle cx="1770.3" cy="900.8" r="8.1" fill="#4a5361"/>
<circle cx="1770.3" cy="901.7" r="8" fill="#fcc40c"/>
<!--/LINES-->
</svg>
</body>
</html>
